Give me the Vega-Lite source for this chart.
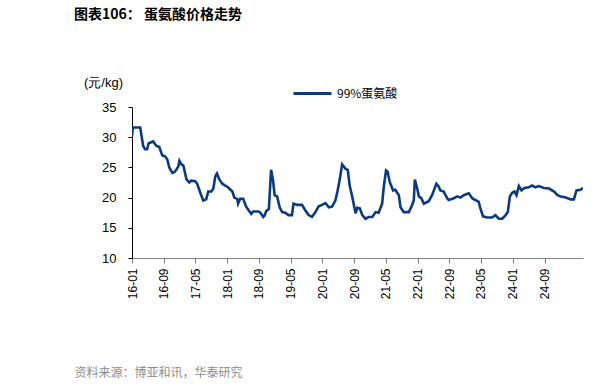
{
  "$schema": "https://vega.github.io/schema/vega-lite/v6.json",
  "autosize": "none",
  "width": 451,
  "height": 151,
  "padding": {"left": 132, "top": 107, "right": 33, "bottom": 131},
  "background": "white",
  "config": {
    "font": "Liberation Sans",
    "view": {"stroke": null}
  },
  "title": {
    "text": "图表106： 蛋氨酸价格走势",
    "anchor": "start",
    "frame": "group",
    "font": "Noto Sans CJK SC",
    "fontSize": 14,
    "fontWeight": "bold",
    "color": "#000000",
    "dx": -58,
    "dy": -47
  },
  "data": {
    "values": [
      {"date": "2016-01-01", "price": 30.2},
      {"date": "2016-01-08", "price": 31.6},
      {"date": "2016-03-04", "price": 31.6},
      {"date": "2016-03-27", "price": 28.5},
      {"date": "2016-04-11", "price": 28.0},
      {"date": "2016-04-26", "price": 28.0},
      {"date": "2016-05-08", "price": 29.0},
      {"date": "2016-06-12", "price": 29.3},
      {"date": "2016-06-27", "price": 28.8},
      {"date": "2016-07-12", "price": 28.5},
      {"date": "2016-07-28", "price": 28.4},
      {"date": "2016-08-20", "price": 27.0},
      {"date": "2016-09-12", "price": 26.8},
      {"date": "2016-09-28", "price": 26.3},
      {"date": "2016-10-13", "price": 25.0},
      {"date": "2016-11-06", "price": 24.1},
      {"date": "2016-11-21", "price": 24.2},
      {"date": "2016-12-06", "price": 24.6},
      {"date": "2016-12-22", "price": 25.2},
      {"date": "2016-12-30", "price": 26.1},
      {"date": "2017-01-14", "price": 25.5},
      {"date": "2017-01-29", "price": 25.3},
      {"date": "2017-02-22", "price": 23.0},
      {"date": "2017-03-15", "price": 22.5},
      {"date": "2017-03-30", "price": 22.8},
      {"date": "2017-04-30", "price": 22.7},
      {"date": "2017-05-15", "price": 22.3},
      {"date": "2017-06-13", "price": 20.5},
      {"date": "2017-07-01", "price": 19.5},
      {"date": "2017-07-23", "price": 19.7},
      {"date": "2017-08-08", "price": 21.0},
      {"date": "2017-09-01", "price": 21.0},
      {"date": "2017-09-16", "price": 21.5},
      {"date": "2017-10-01", "price": 23.5},
      {"date": "2017-10-14", "price": 24.0},
      {"date": "2017-11-01", "price": 23.0},
      {"date": "2017-11-24", "price": 22.3},
      {"date": "2017-12-16", "price": 22.0},
      {"date": "2018-01-01", "price": 21.8},
      {"date": "2018-01-16", "price": 21.5},
      {"date": "2018-02-09", "price": 21.0},
      {"date": "2018-02-24", "price": 20.0},
      {"date": "2018-03-18", "price": 19.8},
      {"date": "2018-03-25", "price": 19.0},
      {"date": "2018-04-10", "price": 19.8},
      {"date": "2018-05-03", "price": 19.8},
      {"date": "2018-05-26", "price": 18.5},
      {"date": "2018-06-11", "price": 18.0},
      {"date": "2018-07-04", "price": 17.3},
      {"date": "2018-07-19", "price": 17.7},
      {"date": "2018-08-27", "price": 17.7},
      {"date": "2018-09-12", "price": 17.5},
      {"date": "2018-10-04", "price": 16.8},
      {"date": "2018-10-13", "price": 17.0},
      {"date": "2018-10-28", "price": 17.8},
      {"date": "2018-11-16", "price": 18.1},
      {"date": "2018-12-03", "price": 24.6},
      {"date": "2018-12-18", "price": 22.9},
      {"date": "2018-12-30", "price": 20.4},
      {"date": "2019-01-18", "price": 20.2},
      {"date": "2019-02-07", "price": 18.4},
      {"date": "2019-02-26", "price": 17.6},
      {"date": "2019-03-21", "price": 17.5},
      {"date": "2019-04-16", "price": 17.1},
      {"date": "2019-05-12", "price": 17.1},
      {"date": "2019-05-24", "price": 19.0},
      {"date": "2019-06-19", "price": 18.8},
      {"date": "2019-07-28", "price": 18.8},
      {"date": "2019-08-22", "price": 17.9},
      {"date": "2019-09-17", "price": 17.1},
      {"date": "2019-10-13", "price": 16.8},
      {"date": "2019-11-08", "price": 17.6},
      {"date": "2019-12-03", "price": 18.55},
      {"date": "2019-12-29", "price": 18.8},
      {"date": "2020-01-24", "price": 19.1},
      {"date": "2020-02-19", "price": 18.4},
      {"date": "2020-03-15", "price": 18.5},
      {"date": "2020-04-10", "price": 19.55},
      {"date": "2020-04-27", "price": 21.2},
      {"date": "2020-05-12", "price": 22.9},
      {"date": "2020-05-31", "price": 25.5},
      {"date": "2020-06-25", "price": 24.8},
      {"date": "2020-07-13", "price": 24.6},
      {"date": "2020-07-28", "price": 22.0},
      {"date": "2020-08-16", "price": 20.2},
      {"date": "2020-09-11", "price": 17.4},
      {"date": "2020-09-24", "price": 18.3},
      {"date": "2020-10-14", "price": 18.2},
      {"date": "2020-11-02", "price": 17.1},
      {"date": "2020-11-27", "price": 16.5},
      {"date": "2020-12-22", "price": 16.8},
      {"date": "2021-01-18", "price": 16.8},
      {"date": "2021-02-12", "price": 17.6},
      {"date": "2021-03-07", "price": 17.5},
      {"date": "2021-04-03", "price": 19.0},
      {"date": "2021-04-15", "price": 21.7},
      {"date": "2021-05-03", "price": 24.5},
      {"date": "2021-05-15", "price": 24.3},
      {"date": "2021-05-31", "price": 22.6},
      {"date": "2021-06-26", "price": 21.2},
      {"date": "2021-07-13", "price": 21.3},
      {"date": "2021-08-09", "price": 20.4},
      {"date": "2021-08-22", "price": 18.4},
      {"date": "2021-09-16", "price": 17.6},
      {"date": "2021-10-25", "price": 17.6},
      {"date": "2021-11-20", "price": 18.8},
      {"date": "2021-12-02", "price": 19.6},
      {"date": "2021-12-10", "price": 23.0},
      {"date": "2021-12-28", "price": 21.5},
      {"date": "2022-01-10", "price": 20.2},
      {"date": "2022-01-28", "price": 19.9},
      {"date": "2022-02-17", "price": 19.0},
      {"date": "2022-03-26", "price": 19.4},
      {"date": "2022-04-21", "price": 20.4},
      {"date": "2022-05-05", "price": 21.2},
      {"date": "2022-05-24", "price": 22.3},
      {"date": "2022-06-09", "price": 21.9},
      {"date": "2022-06-24", "price": 21.2},
      {"date": "2022-07-19", "price": 21.0},
      {"date": "2022-08-15", "price": 19.9},
      {"date": "2022-08-27", "price": 19.6},
      {"date": "2022-10-05", "price": 19.9},
      {"date": "2022-10-31", "price": 20.2},
      {"date": "2022-11-25", "price": 20.0},
      {"date": "2022-12-20", "price": 20.4},
      {"date": "2023-01-28", "price": 20.7},
      {"date": "2023-02-23", "price": 19.9},
      {"date": "2023-03-19", "price": 19.6},
      {"date": "2023-04-14", "price": 19.3},
      {"date": "2023-04-27", "price": 18.2},
      {"date": "2023-05-17", "price": 16.9},
      {"date": "2023-06-17", "price": 16.7},
      {"date": "2023-07-25", "price": 16.7},
      {"date": "2023-08-20", "price": 17.1},
      {"date": "2023-09-15", "price": 16.5},
      {"date": "2023-10-11", "price": 16.5},
      {"date": "2023-11-06", "price": 17.1},
      {"date": "2023-11-23", "price": 17.6},
      {"date": "2023-12-09", "price": 20.2},
      {"date": "2023-12-27", "price": 20.8},
      {"date": "2024-01-14", "price": 21.0},
      {"date": "2024-01-29", "price": 20.4},
      {"date": "2024-02-16", "price": 21.9},
      {"date": "2024-03-07", "price": 21.2},
      {"date": "2024-03-30", "price": 21.6},
      {"date": "2024-05-02", "price": 21.7},
      {"date": "2024-05-28", "price": 22.0},
      {"date": "2024-06-23", "price": 21.7},
      {"date": "2024-07-18", "price": 21.9},
      {"date": "2024-08-26", "price": 21.6},
      {"date": "2024-10-04", "price": 21.5},
      {"date": "2024-11-12", "price": 21.0},
      {"date": "2024-12-08", "price": 20.4},
      {"date": "2025-01-02", "price": 20.2},
      {"date": "2025-02-10", "price": 20.0},
      {"date": "2025-03-19", "price": 19.7},
      {"date": "2025-04-13", "price": 19.7},
      {"date": "2025-05-03", "price": 21.2},
      {"date": "2025-06-03", "price": 21.3},
      {"date": "2025-06-21", "price": 21.6}
    ]
  },
  "transform": [{"calculate": "'99%蛋氨酸'", "as": "series"}],
  "mark": {"type": "line", "strokeWidth": 2.6, "interpolate": "linear", "clip": true},
  "encoding": {
    "x": {
      "field": "date",
      "type": "temporal",
      "scale": {"domain": ["2016-01-01", "2025-06-22"]},
      "axis": {
        "values": ["2016-01-01", "2016-09-01", "2017-05-01", "2018-01-01", "2018-09-01", "2019-05-01", "2020-01-01", "2020-09-01", "2021-05-01", "2022-01-01", "2022-09-01", "2023-05-01", "2024-01-01", "2024-09-01"],
        "format": "%y-%m",
        "labelAngle": -90,
        "labelAlign": "right",
        "labelBaseline": "middle",
        "labelFontSize": 12,
        "labelColor": "#000000",
        "labelPadding": 5,
        "labelFlush": false,
        "labelOverlap": false,
        "grid": false,
        "domainColor": "#808080",
        "tickColor": "#808080",
        "tickSize": 5,
        "title": "资料来源：博亚和讯，华泰研究",
        "titleFont": "Noto Sans CJK SC",
        "titleFontSize": 12,
        "titleFontWeight": "normal",
        "titleColor": "#8c8c8c",
        "titleAnchor": "start",
        "titleAlign": "left",
        "titleBaseline": "middle",
        "titleX": -58,
        "titleY": 114
      }
    },
    "y": {
      "field": "price",
      "type": "quantitative",
      "scale": {"domain": [10, 35], "nice": false, "zero": false},
      "axis": {
        "values": [10, 15, 20, 25, 30, 35],
        "labelFontSize": 13,
        "labelColor": "#000000",
        "labelPadding": 12,
        "grid": false,
        "domainColor": "#000000",
        "tickColor": "#000000",
        "tickSize": 4,
        "title": "(元/kg)",
        "titleFont": "Liberation Sans",
        "titleFontSize": 13,
        "titleFontWeight": "normal",
        "titleColor": "#000000",
        "titleAngle": 0,
        "titleAlign": "center",
        "titleBaseline": "middle",
        "titleX": -29,
        "titleY": -25
      }
    },
    "color": {
      "field": "series",
      "type": "nominal",
      "scale": {"range": ["#0b3b7d"]},
      "legend": {
        "orient": "none",
        "legendX": 160,
        "legendY": -34,
        "title": null,
        "symbolType": "stroke",
        "symbolSize": 1444,
        "symbolStrokeWidth": 3,
        "labelFont": "Noto Sans CJK SC",
        "labelFontSize": 12,
        "labelColor": "#000000",
        "labelOffset": 4,
        "padding": 0
      }
    }
  }
}
